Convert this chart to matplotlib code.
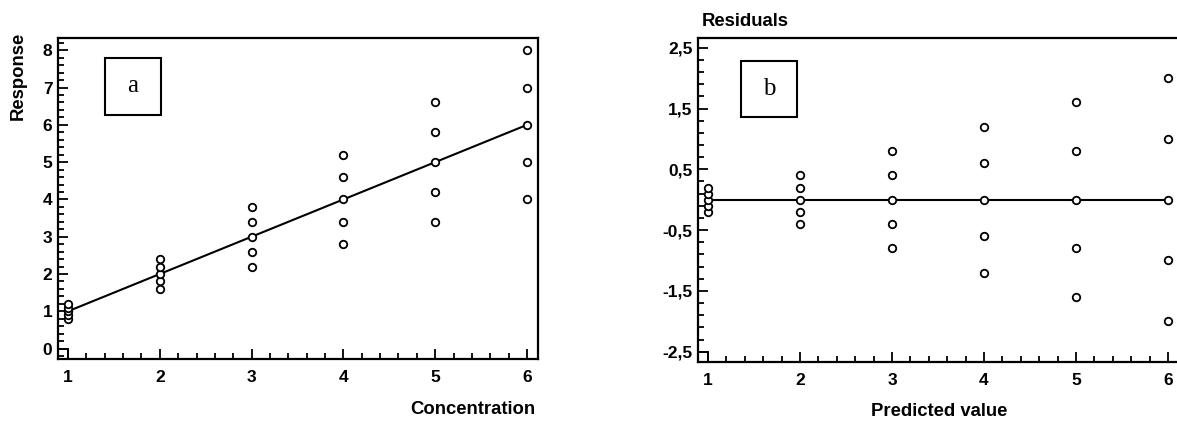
import numpy as np
import matplotlib
matplotlib.use('Agg')
import matplotlib.pyplot as plt
from matplotlib.patches import Rectangle
from matplotlib.ticker import MultipleLocator, FixedLocator

# data
conc = [1, 2, 3, 4, 5, 6]
response = [
    [0.8, 0.9, 1.0, 1.1, 1.2],
    [1.6, 1.8, 2.0, 2.2, 2.4],
    [2.2, 2.6, 3.0, 3.4, 3.8],
    [2.8, 3.4, 4.0, 4.6, 5.2],
    [3.4, 4.2, 5.0, 5.8, 6.6],
    [4.0, 5.0, 6.0, 7.0, 8.0],
]
fit_x = [1, 6]
fit_y = [1, 6]
resid = [
    [-0.2, -0.1, 0.0, 0.1, 0.2],
    [-0.4, -0.2, 0.0, 0.2, 0.4],
    [-0.8, -0.4, 0.0, 0.4, 0.8],
    [-1.2, -0.6, 0.0, 0.6, 1.2],
    [-1.6, -0.8, 0.0, 0.8, 1.6],
    [-2.0, -1.0, 0.0, 1.0, 2.0],
]
resid_ticks = [-2.5, -1.5, -0.5, 0.5, 1.5, 2.5]
resid_labels = ['-2,5', '-1,5', '-0,5', '0,5', '1,5', '2,5']

plt.rcParams['font.family'] = ['Liberation Sans', 'DejaVu Sans']
plt.rcParams['font.weight'] = 'bold'

W, H = 1177, 424
fig = plt.figure(figsize=(W/100, H/100), dpi=100)

def px(l, t, r, b):
    return [l/W, 1 - b/H, (r - l)/W, (b - t)/H]

def style(ax):
    for s in ax.spines.values():
        s.set_linewidth(1.6)
    ax.tick_params(which='both', direction='in', top=False, right=False,
                   width=1.3, labelsize=12.5)
    ax.tick_params(which='major', length=7)
    ax.tick_params(which='minor', length=4)
    ax.tick_params(axis='y', pad=4)
    ax.tick_params(axis='x', pad=8)
    ax.xaxis.set_major_locator(MultipleLocator(1))
    ax.xaxis.set_minor_locator(MultipleLocator(0.2))
    for lab in ax.get_xticklabels() + ax.get_yticklabels():
        lab.set_fontweight('bold')

mk = dict(marker='o', ms=5.4, mfc='white', mec='black', mew=1.3, ls='none', zorder=3)

# panel a
ax1 = fig.add_axes(px(58, 38, 538, 359))
for x, ys in zip(conc, response):
    ax1.plot([x]*len(ys), ys, **mk)
ax1.plot(fit_x, fit_y, color='black', lw=1.5, zorder=2)
ax1.set_xlim(0.891, 6.12)
ax1.set_ylim(-0.28, 8.33)
ax1.yaxis.set_major_locator(MultipleLocator(1))
ax1.yaxis.set_minor_locator(MultipleLocator(0.2))
style(ax1)
ax1.plot([1, 1], [-0.28, 0], color='black', lw=1.3, clip_on=False)
ax1.plot([0.891, 1], [0, 0], color='black', lw=1.3, clip_on=False)
ax1.add_patch(Rectangle((0.098, 0.76), 0.117, 0.178, transform=ax1.transAxes,
                        fill=False, lw=1.5, ec='black'))
ax1.text(0.1565, 0.85, 'a', transform=ax1.transAxes, ha='center', va='center',
         fontsize=18, fontweight='normal', family='Liberation Serif')

# panel b
ax2 = fig.add_axes(px(698, 38, 1177, 362))
for x, ys in zip(conc, resid):
    ax2.plot([x]*len(ys), ys, **mk)
ax2.plot([1, 6], [0, 0], color='black', lw=1.5, zorder=2)
ax2.set_xlim(0.891, 6.098)
ax2.set_ylim(-2.67, 2.66)
ax2.yaxis.set_major_locator(FixedLocator(resid_ticks))
ax2.yaxis.set_minor_locator(FixedLocator(np.arange(-2.5, 2.55, 0.2)))
ax2.set_yticklabels(resid_labels)
ax2.spines['right'].set_visible(False)
style(ax2)
ax2.plot([1, 1], [-2.67, -2.5], color='black', lw=1.3, clip_on=False)
ax2.plot([0.891, 1], [-2.5, -2.5], color='black', lw=1.3, clip_on=False)
ax2.add_patch(Rectangle((0.0895, 0.757), 0.117, 0.173, transform=ax2.transAxes,
                        fill=False, lw=1.5, ec='black'))
ax2.text(0.148, 0.843, 'b', transform=ax2.transAxes, ha='center', va='center',
         fontsize=18, fontweight='normal', family='Liberation Serif')

# axis titles
fig.text(18/W, 1 - 32/H, 'Response', rotation=90, ha='center', va='top',
         fontsize=13.3, fontweight='bold')
fig.text(535/W, 1 - 410/H, 'Concentration', ha='right', va='center',
         fontsize=13.3, fontweight='bold')
fig.text(702/W, 1 - 22/H, 'Residuals', ha='left', va='center',
         fontsize=13.3, fontweight='bold')
fig.text(939/W, 1 - 411/H, 'Predicted value', ha='center', va='center',
         fontsize=13.3, fontweight='bold')

fig.savefig('out.png', dpi=100)
